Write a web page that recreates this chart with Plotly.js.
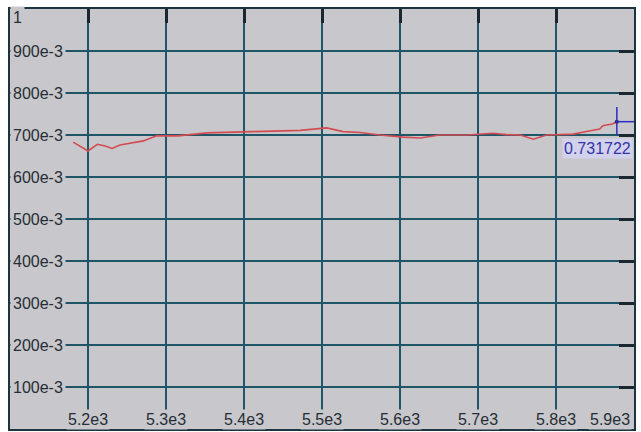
<!DOCTYPE html>
<html>
<head>
<meta charset="utf-8">
<script src="https://cdn.plot.ly/plotly-3.0.1.min.js"></script>
<style>
  html, body { margin: 0; padding: 0; background: #ffffff; }
  #chart { width: 641px; height: 432px; }
</style>
</head>
<body>
<div id="chart"></div>
<script>
// ---- data ----
const freq = [5181,5200,5212,5222,5231,5241,5271,5288,5315,5353,5410,5472,5506,5527,5549,5574,5604,5626,5651,5686,5719,5737,5754,5771,5788,5822,5844,5856,5860,5872,5878];
const value = [0.683,0.662,0.678,0.674,0.668,0.676,0.686,0.698,0.698,0.705,0.708,0.711,0.717,0.708,0.706,0.700,0.695,0.693,0.700,0.700,0.704,0.701,0.700,0.690,0.700,0.702,0.710,0.714,0.722,0.726,0.731722];

const xTickVals = [5200, 5300, 5400, 5500, 5600, 5700, 5800, 5900];
const xTickText = ["5.2e3", "5.3e3", "5.4e3", "5.5e3", "5.6e3", "5.7e3", "5.8e3", "5.9e3"];
const yTickVals = [0.1, 0.2, 0.3, 0.4, 0.5, 0.6, 0.7, 0.8, 0.9, 1];
const yTickText = ["100e-3", "200e-3", "300e-3", "400e-3", "500e-3", "600e-3", "700e-3", "800e-3", "900e-3", "1"];

const cursorX = 5878;
const cursorY = 0.731722;

// ---- styling ----
const plotBg = '#c8c7cb';
const gridCol = '#1e5568';
const frameCol = '#1c3340';
const textCol = '#262e35';
const labelFont = { family: 'Liberation Sans, Arial, sans-serif', size: 16, color: textCol };

const annotations = [];
xTickVals.forEach((v, i) => {
  const last = i === xTickVals.length - 1;
  annotations.push({
    x: v, xref: 'x', y: 0, yref: 'paper',
    text: xTickText[i], showarrow: false,
    xanchor: last ? 'right' : 'center', yanchor: 'bottom',
    font: labelFont, bgcolor: plotBg, borderpad: 1, yshift: -1, xshift: last ? -2 : 0
  });
});
yTickVals.forEach((v, i) => {
  const top = v === 1;
  annotations.push({
    x: 0, xref: 'paper', y: v, yref: 'y',
    text: yTickText[i], showarrow: false,
    xanchor: 'left', yanchor: top ? 'top' : 'middle',
    font: labelFont, bgcolor: plotBg, borderpad: 2, xshift: 0, yshift: top ? 3 : 0
  });
});
annotations.push({
  x: 1, xref: 'paper', y: cursorY, yref: 'y',
  text: cursorY.toFixed(6), showarrow: false,
  xanchor: 'right', yanchor: 'top', yshift: -16, xshift: -1,
  font: { family: 'Liberation Sans, Arial, sans-serif', size: 16, color: '#3434a8' },
  bgcolor: '#d2d2ec', borderpad: 1
});

const shapes = [
  { type: 'line', xref: 'x', yref: 'y', x0: cursorX, x1: cursorX, y0: cursorY - 0.032, y1: cursorY + 0.035,
    line: { color: '#2c2cc4', width: 1.5 } },
  { type: 'line', xref: 'x', yref: 'y', x0: cursorX, x1: 5900, y0: cursorY, y1: cursorY,
    line: { color: '#2c2cc4', width: 1.5 } }
];

const traces = [
  { x: freq, y: value, type: 'scatter', mode: 'lines',
    line: { color: '#d24c52', width: 1.6 }, hoverinfo: 'skip' },
  { x: [cursorX], y: [cursorY], type: 'scatter', mode: 'markers',
    marker: { color: '#202040', size: 4 }, hoverinfo: 'skip' }
];

const layout = {
  width: 641, height: 432,
  margin: { l: 10, r: 7, t: 9, b: 3, pad: 0 },
  paper_bgcolor: '#ffffff',
  plot_bgcolor: plotBg,
  showlegend: false,
  xaxis: {
    range: [5100, 5900], fixedrange: true, side: 'top',
    tickvals: xTickVals.slice(0, -1), showticklabels: false,
    showgrid: true, gridcolor: gridCol, gridwidth: 2,
    zeroline: false,
    showline: true, linecolor: frameCol, linewidth: 2, mirror: true,
    ticks: 'inside', ticklen: 14, tickwidth: 3, tickcolor: '#1a2630'
  },
  yaxis: {
    range: [0, 1], fixedrange: true, side: 'right',
    tickvals: yTickVals.slice(0, -1), showticklabels: false,
    showgrid: true, gridcolor: gridCol, gridwidth: 2,
    zeroline: false,
    showline: true, linecolor: frameCol, linewidth: 2, mirror: true,
    ticks: 'inside', ticklen: 15, tickwidth: 3, tickcolor: '#1a2630'
  },
  annotations: annotations,
  shapes: shapes
};

Plotly.newPlot('chart', traces, layout, { staticPlot: true, displayModeBar: false });
</script>
</body>
</html>
